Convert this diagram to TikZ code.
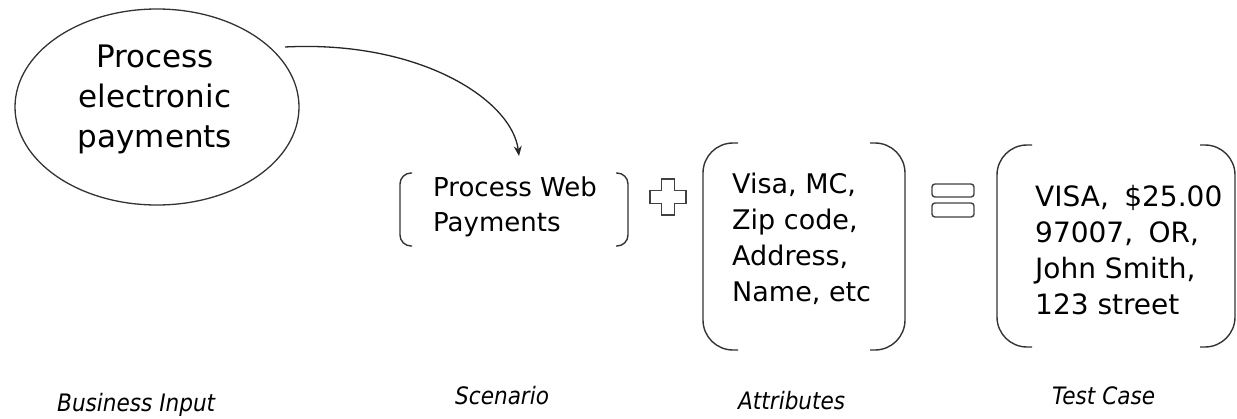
\documentclass[tikz,border=0pt]{standalone}
\usepackage{fontspec}
\setmainfont{DejaVu Sans}
\newfontfamily\condfont{DejaVu Sans Condensed}
\usetikzlibrary{shapes.geometric,arrows.meta}

% pair of round brackets: left x, right x, top y, bottom y, hook, radius
\newcommand{\parenpair}[6]{%
  \draw[paren,rounded corners=#6] (#1+#5,#3) -- (#1,#3) -- (#1,#4) -- (#1+#5,#4);
  \draw[paren,rounded corners=#6] (#2-#5,#3) -- (#2,#3) -- (#2,#4) -- (#2-#5,#4);
}

\begin{document}
\begin{tikzpicture}[x=1pt,y=-1pt,
  paren/.style={draw=black!80,line width=1.4pt},
  sign/.style={draw=black!75,line width=1.4pt,fill=white},
  flow/.style={draw=black!85,line width=1.3pt,-{Stealth[length=10pt,width=8pt]}},
  bigtext/.style={inner sep=0pt,align=center,font=\fontsize{31}{40}\selectfont},
  boxtext/.style={inner sep=0pt,align=left,anchor=north west},
  caption/.style={inner sep=0pt,anchor=base west,font=\condfont\itshape\fontsize{24}{28}\selectfont}]
	\useasboundingbox (0,0) rectangle (1237,418);
	% Business input
	\node[ellipse,draw=black!80,line width=1.3pt,minimum width=284pt,minimum height=196pt,inner sep=0pt] (bizin) at (157,107) {};
	\node[bigtext,anchor=north] (bizintext) at (155,45) {Process\\electronic\\payments};
	% Scenario
	\node[boxtext,font=\fontsize{26}{35}\selectfont] (scen) at (433,177) {Process Web\\Payments};
	\parenpair{400}{628}{173}{246}{12}{11}
	% Attributes
	\node[boxtext,font=\fontsize{27}{36}\selectfont] (attr) at (732,173) {Visa, MC,\\Zip code,\\Address,\\Name, etc};
	\parenpair{703}{905}{143}{350}{35}{30}
	% Test case
	\node[boxtext,font=\fontsize{28}{36}\selectfont] (tcase) at (1035,185) {VISA,\hspace{0.55em}\$25.00\\97007,\hspace{0.55em}OR,\\John Smith,\\123 street};
	\parenpair{997}{1235}{145}{347}{35}{30}
	% Flow arrow
	\coordinate (flowstart) at (285,47);
	\draw[flow] (flowstart) .. controls (420,40) and (512,100) .. ([xshift=4pt,yshift=21pt]scen.north);
	% Plus and equals
	\draw[sign] (661.5,179) -- (674.5,179) -- (674.5,190.5) -- (686,190.5) -- (686,203.5) -- (674.5,203.5)
	  -- (674.5,215) -- (661.5,215) -- (661.5,203.5) -- (650,203.5) -- (650,190.5) -- (661.5,190.5) -- cycle;
	\draw[sign,rounded corners=3pt] (932,184) rectangle (974,197);
	\draw[sign,rounded corners=3pt] (932,203) rectangle (974,217);
	%Labels
	\node[caption] (bizlabel) at (57,411) {Business Input};
	\node[caption] (scenlabel) at (455,404) {Scenario};
	\node[caption] (attrlabel) at (738,409) {Attributes};
	\node[caption] (tcaselabel) at (1052,404) {Test Case};
\end{tikzpicture}
\end{document}
